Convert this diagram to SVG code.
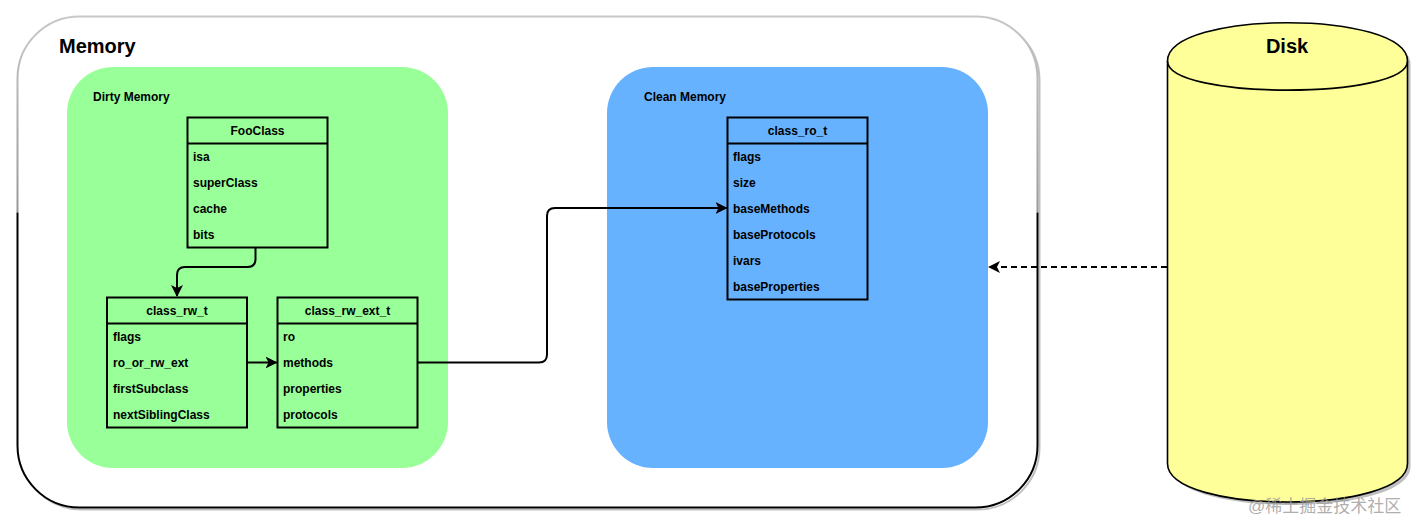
<svg xmlns="http://www.w3.org/2000/svg" width="1426" height="532" viewBox="0 0 1426 532">
<style>
text{font-family:"Liberation Sans",Arial,Helvetica,sans-serif;font-weight:bold;fill:#000}
.t{font-size:12px}
.h{font-size:12px;text-anchor:middle}
.big{font-size:20px}
.box{fill:none;stroke:#000;stroke-width:2}
.edge{fill:none;stroke:#000;stroke-width:2}
</style>
<defs>
<linearGradient id="memStroke" gradientUnits="userSpaceOnUse" x1="0" y1="16" x2="0" y2="508">
<stop offset="0" stop-color="#c8c8c8"/>
<stop offset="0.399" stop-color="#999"/>
<stop offset="0.40" stop-color="#000"/>
<stop offset="1" stop-color="#000"/>
</linearGradient>
<marker id="arr" viewBox="0 0 12 12" refX="11" refY="6" markerWidth="12" markerHeight="12" markerUnits="userSpaceOnUse" orient="auto">
<path d="M0,0 L12,6 L0,12 L3,6 Z" fill="#000"/>
</marker>
</defs>

<g id="memory">
<rect x="19.5" y="18.5" width="1020" height="491" rx="62" fill="none" stroke="#000" stroke-opacity="0.25" stroke-width="2"/>
<rect x="17.5" y="16.5" width="1020" height="491" rx="62" fill="#fff" stroke="url(#memStroke)" stroke-width="2"/>
<text class="big" x="59" y="53">Memory</text>
</g>

<g id="dirty-memory">
<rect x="67" y="67" width="381" height="401" rx="46" fill="#99FF99"/>
<text class="t" x="93" y="101">Dirty Memory</text>
</g>

<g id="clean-memory">
<rect x="607" y="67" width="381" height="401" rx="46" fill="#66B2FF"/>
<text class="t" x="644" y="101">Clean Memory</text>
</g>

<g id="FooClass">
<rect class="box" x="187.5" y="117.5" width="140" height="130"/>
<line class="box" x1="187.5" y1="143.5" x2="327.5" y2="143.5"/>
<text class="h" x="257.5" y="135">FooClass</text>
<text class="t" x="193" y="161">isa</text>
<text class="t" x="193" y="187">superClass</text>
<text class="t" x="193" y="213">cache</text>
<text class="t" x="193" y="239">bits</text>
</g>

<g id="class_rw_t">
<rect class="box" x="107" y="297.5" width="140" height="130"/>
<line class="box" x1="107" y1="323.5" x2="247" y2="323.5"/>
<text class="h" x="177" y="315">class_rw_t</text>
<text class="t" x="113" y="341">flags</text>
<text class="t" x="113" y="367">ro_or_rw_ext</text>
<text class="t" x="113" y="393">firstSubclass</text>
<text class="t" x="113" y="419">nextSiblingClass</text>
</g>

<g id="class_rw_ext_t">
<rect class="box" x="277.5" y="297.5" width="140" height="130"/>
<line class="box" x1="277.5" y1="323.5" x2="417.5" y2="323.5"/>
<text class="h" x="347.5" y="315">class_rw_ext_t</text>
<text class="t" x="283" y="341">ro</text>
<text class="t" x="283" y="367">methods</text>
<text class="t" x="283" y="393">properties</text>
<text class="t" x="283" y="419">protocols</text>
</g>

<g id="class_ro_t">
<rect class="box" x="727.5" y="117.5" width="140" height="182"/>
<line class="box" x1="727.5" y1="143.5" x2="867.5" y2="143.5"/>
<text class="h" x="797.5" y="135">class_ro_t</text>
<text class="t" x="733" y="161">flags</text>
<text class="t" x="733" y="187">size</text>
<text class="t" x="733" y="213">baseMethods</text>
<text class="t" x="733" y="239">baseProtocols</text>
<text class="t" x="733" y="265">ivars</text>
<text class="t" x="733" y="291">baseProperties</text>
</g>

<g id="disk">
<path d="M1170.5,64.2 C1170.5,12.9 1410.5,12.9 1410.5,64.2 L1410.5,466.5 C1410.5,517.8 1170.5,517.8 1170.5,466.5 Z" fill="#000" fill-opacity="0.25"/>
<path d="M1167.5,61.2 C1167.5,9.9 1407.5,9.9 1407.5,61.2 L1407.5,463.5 C1407.5,514.8 1167.5,514.8 1167.5,463.5 Z" fill="#FFFF99" stroke="#000" stroke-width="1.6"/>
<path d="M1167.5,61.2 C1167.5,99.7 1407.5,99.7 1407.5,61.2" fill="none" stroke="#000" stroke-width="1.6"/>
<text class="big" x="1287" y="53" text-anchor="middle">Disk</text>
</g>

<g id="connectors">
<path class="edge" d="M255.5,248 L255.5,259 Q255.5,267 247.5,267 L185,267 Q177,267 177,275 L177,296" marker-end="url(#arr)"/>
<path class="edge" d="M247,362.5 L276.5,362.5" marker-end="url(#arr)"/>
<path class="edge" d="M418,362.5 L539,362.5 Q547,362.5 547,354.5 L547,216 Q547,208 555,208 L726.5,208" marker-end="url(#arr)"/>
<path class="edge" d="M1167,267 L989,267" stroke-dasharray="6 4" marker-end="url(#arr)"/>
</g>

<text x="1248" y="512" style="font-family:'Liberation Sans','Noto Sans CJK SC',sans-serif;font-weight:normal;font-size:17px;fill:#999;fill-opacity:0.8">@稀土掘金技术社区</text>
</svg>
